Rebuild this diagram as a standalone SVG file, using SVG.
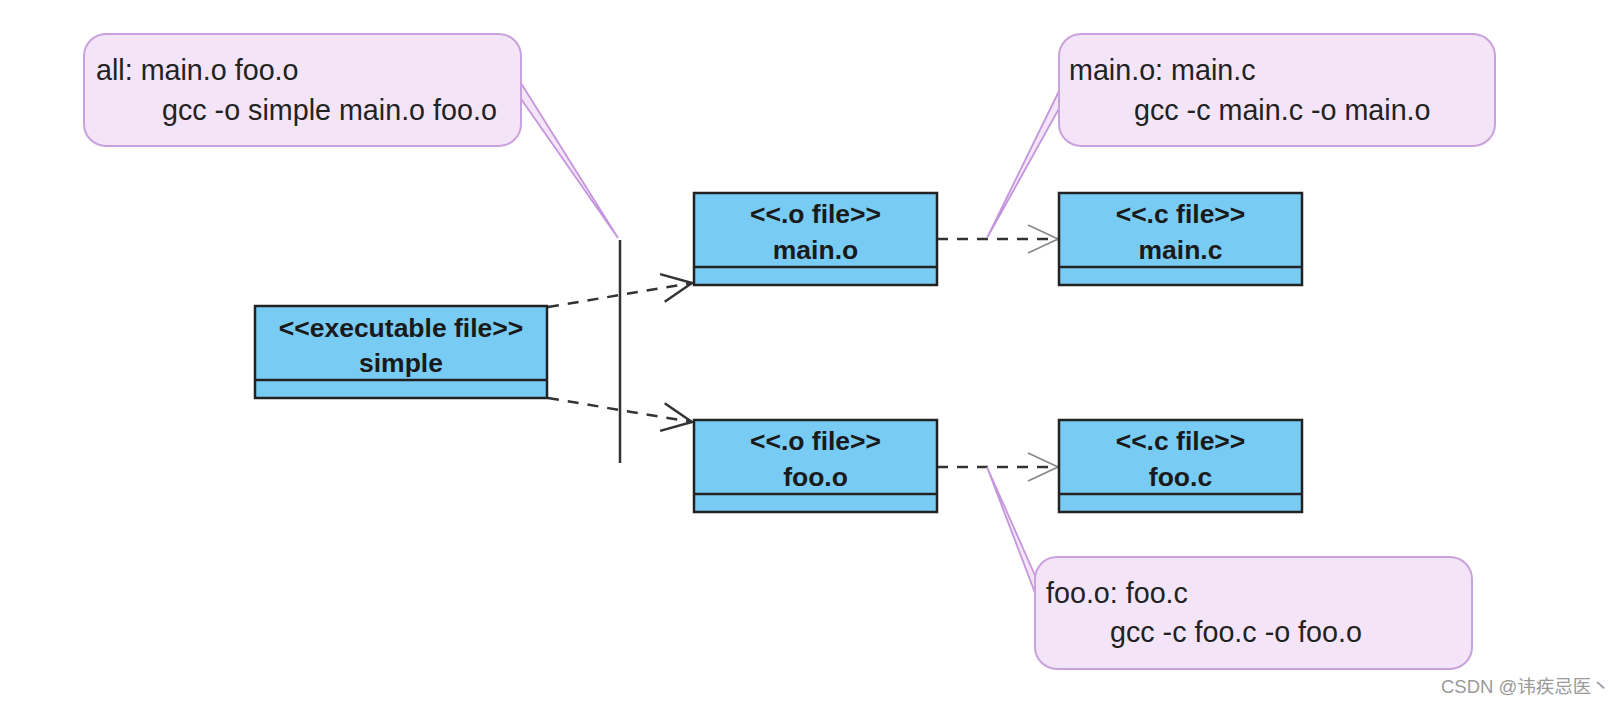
<svg xmlns="http://www.w3.org/2000/svg" width="1620" height="706" viewBox="0 0 1620 706">
<style>
  .box { fill: #78CCF4; stroke: #222; stroke-width: 2.5; }
  .div { stroke: #222; stroke-width: 2.5; }
  .lbl { font-family: "Liberation Sans", Arial, sans-serif; font-weight: bold; font-size: 26.5px; fill: #1a1a1a; text-anchor: middle; }
  .note { fill: #F3E5F7; stroke: #C9A2DD; stroke-width: 2; }
  .wedge { fill: #F3E5F7; stroke: #C596DE; stroke-width: 1.8; stroke-linejoin: miter; }
  .ntxt { font-family: "Liberation Sans", Arial, sans-serif; font-size: 28.7px; fill: #222; }
  .dash { fill: none; stroke: #333; stroke-width: 2.5; stroke-dasharray: 11 9; }
  .bar { stroke: #333; stroke-width: 2.5; }
  .wm { font-family: "Liberation Sans", "Noto Sans CJK SC", sans-serif; font-size: 18.5px; fill: #9a9a9a; }
</style>
<defs>
  <marker id="arrDark" markerUnits="userSpaceOnUse" viewBox="-34 -18 38 36" markerWidth="38" markerHeight="36" refX="0" refY="0" orient="auto" overflow="visible">
    <path d="M-30,-14 L0,0 L-30,14" fill="none" stroke="#333" stroke-width="2.5"/>
  </marker>
  <marker id="arrGray" markerUnits="userSpaceOnUse" viewBox="-34 -18 38 36" markerWidth="38" markerHeight="36" refX="0" refY="0" orient="auto" overflow="visible">
    <path d="M-30,-14 L0,0 L-30,14" fill="none" stroke="#8a8a8a" stroke-width="1.8"/>
  </marker>
</defs>

<g id="connectors">
  <line class="bar" x1="620" y1="240" x2="620" y2="463"/>
  <line class="dash" x1="548" y1="307" x2="692" y2="283" marker-end="url(#arrDark)"/>
  <line class="dash" x1="548" y1="398" x2="692" y2="422" marker-end="url(#arrDark)"/>
  <line class="dash" x1="937" y1="239" x2="1058" y2="239" marker-end="url(#arrGray)"/>
  <line class="dash" x1="937" y1="467" x2="1058" y2="467" marker-end="url(#arrGray)"/>
</g>

<g id="note-all">
  <polygon class="wedge" points="519,80 618,238 519,96"/>
  <rect class="note" x="84" y="34" width="437" height="112" rx="22"/>
  <text class="ntxt" x="96" y="80">all: main.o foo.o</text>
  <text class="ntxt" x="162" y="120">gcc -o simple main.o foo.o</text>
</g>

<g id="note-main">
  <polygon class="wedge" points="1061,87 987,238 1061,105"/>
  <rect class="note" x="1059" y="34" width="436" height="112" rx="22"/>
  <text class="ntxt" x="1069" y="80">main.o: main.c</text>
  <text class="ntxt" x="1134" y="120">gcc -c main.c -o main.o</text>
</g>

<g id="note-foo">
  <polygon class="wedge" points="1037,580 987,467 1037,598"/>
  <rect class="note" x="1035" y="557" width="437" height="112" rx="22"/>
  <text class="ntxt" x="1046" y="603">foo.o: foo.c</text>
  <text class="ntxt" x="1110" y="642">gcc -c foo.c -o foo.o</text>
</g>

<g id="simple">
  <rect class="box" x="255" y="306" width="292" height="92"/>
  <line class="div" x1="255" y1="380" x2="547" y2="380"/>
  <text class="lbl" x="401" y="337">&lt;&lt;executable file&gt;&gt;</text>
  <text class="lbl" x="401" y="372">simple</text>
</g>

<g id="main-o">
  <rect class="box" x="694" y="193" width="243" height="92"/>
  <line class="div" x1="694" y1="267" x2="937" y2="267"/>
  <text class="lbl" x="815.5" y="223">&lt;&lt;.o file&gt;&gt;</text>
  <text class="lbl" x="815.5" y="259">main.o</text>
</g>

<g id="main-c">
  <rect class="box" x="1059" y="193" width="243" height="92"/>
  <line class="div" x1="1059" y1="267" x2="1302" y2="267"/>
  <text class="lbl" x="1180.5" y="223">&lt;&lt;.c file&gt;&gt;</text>
  <text class="lbl" x="1180.5" y="259">main.c</text>
</g>

<g id="foo-o">
  <rect class="box" x="694" y="420" width="243" height="92"/>
  <line class="div" x1="694" y1="494" x2="937" y2="494"/>
  <text class="lbl" x="815.5" y="450">&lt;&lt;.o file&gt;&gt;</text>
  <text class="lbl" x="815.5" y="486">foo.o</text>
</g>

<g id="foo-c">
  <rect class="box" x="1059" y="420" width="243" height="92"/>
  <line class="div" x1="1059" y1="494" x2="1302" y2="494"/>
  <text class="lbl" x="1180.5" y="450">&lt;&lt;.c file&gt;&gt;</text>
  <text class="lbl" x="1180.5" y="486">foo.c</text>
</g>

<text class="wm" x="1441" y="693">CSDN @讳疾忌医丶</text>
</svg>
